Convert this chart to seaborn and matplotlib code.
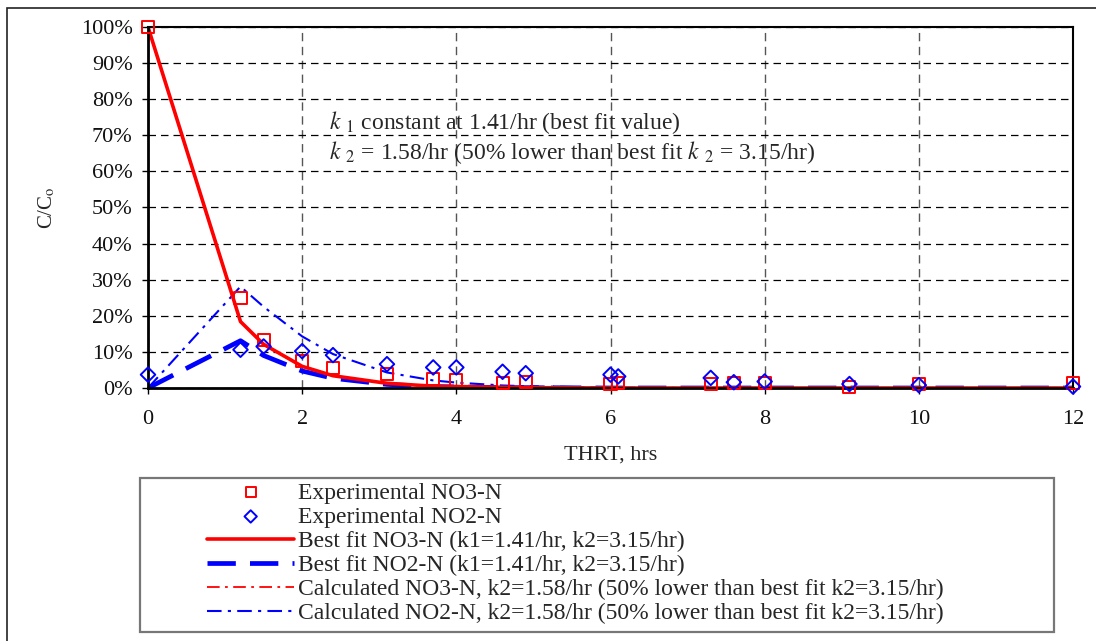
import matplotlib
matplotlib.use("Agg")
import matplotlib.pyplot as plt
import matplotlib.patches as mpatches
from matplotlib.ticker import PercentFormatter, MultipleLocator
import seaborn as sns

# Sampling times (hours of total hydraulic residence time)
thrt = [0, 1.2, 1.5, 2.0, 2.4, 3.1, 3.7, 4.0, 4.6, 4.9, 6.0, 6.1, 7.3, 7.6, 8.0, 9.1, 10.0, 12.0]

# Measured concentrations, C/Co
no3_exp = [1.000, 0.250, 0.132, 0.075, 0.055, 0.040, 0.026, 0.021, 0.013, 0.016,
           0.011, 0.013, 0.011, 0.013, 0.013, 0.004, 0.011, 0.013]
no2_exp = [0.037, 0.106, 0.115, 0.102, 0.091, 0.066, 0.057, 0.057, 0.045, 0.041,
           0.037, 0.032, 0.028, 0.016, 0.018, 0.011, 0.008, 0.004]

# Model curves, C/Co
no3_fit = [1.000, 0.184, 0.121, 0.060, 0.034, 0.013, 0.005, 0.004, 0.002, 0.001,
           0.000, 0.000, 0.000, 0.000, 0.000, 0.000, 0.000, 0.000]
no2_fit = [0.000, 0.131, 0.090, 0.047, 0.027, 0.010, 0.004, 0.003, 0.001, 0.001,
           0.000, 0.000, 0.000, 0.000, 0.000, 0.000, 0.000, 0.000]
no3_calc = [1.000, 0.184, 0.121, 0.060, 0.034, 0.013, 0.005, 0.004, 0.002, 0.001,
            0.000, 0.000, 0.000, 0.000, 0.000, 0.000, 0.000, 0.000]
no2_calc = [0.000, 0.281, 0.225, 0.143, 0.094, 0.043, 0.021, 0.015, 0.007, 0.005,
            0.001, 0.001, 0.000, 0.000, 0.000, 0.000, 0.000, 0.000]

labels = [
    "Experimental NO3-N",
    "Experimental NO2-N",
    "Best fit NO3-N (k1=1.41/hr, k2=3.15/hr)",
    "Best fit NO2-N (k1=1.41/hr, k2=3.15/hr)",
    "Calculated NO3-N, k2=1.58/hr (50% lower than best fit k2=3.15/hr)",
    "Calculated NO2-N, k2=1.58/hr (50% lower than best fit k2=3.15/hr)",
]

sns.set_style("white")
plt.rcParams["font.family"] = ["Liberation Serif", "DejaVu Serif"]
plt.rcParams["mathtext.fontset"] = "stix"

fig = plt.figure(figsize=(10.96, 6.41), dpi=100)
ax = fig.add_axes([148 / 1096, 1 - 388 / 641, (1073 - 148) / 1096, (388 - 27) / 641])

RED = "#ff0000"
BLUE = "#0000ff"

sns.lineplot(x=thrt, y=no3_fit, ax=ax, color=RED, lw=2.6, label=labels[2], zorder=4)
sns.lineplot(x=thrt, y=no2_fit, ax=ax, color=BLUE, lw=3.4, label=labels[3], zorder=3)
ax.lines[-1].set_dashes([6, 3])
sns.lineplot(x=thrt, y=no3_calc, ax=ax, color=RED, lw=1.3, label=labels[4], zorder=5)
ax.lines[-1].set_dashes([7, 3, 1.5, 3])
sns.lineplot(x=thrt, y=no2_calc, ax=ax, color=BLUE, lw=1.5, label=labels[5], zorder=3)
ax.lines[-1].set_dashes([7, 3, 1.5, 3])

sns.scatterplot(x=thrt, y=no3_exp, ax=ax, marker="s", s=75, facecolors="none",
                edgecolors=RED, linewidths=1.4, label=labels[0], zorder=8,
                clip_on=False)
sns.scatterplot(x=thrt, y=no2_exp, ax=ax, marker="D", s=55, facecolors="none",
                edgecolors=BLUE, linewidths=1.4, label=labels[1], zorder=8,
                clip_on=False)

ax.set_xlim(0, 12)
ax.set_ylim(0, 1.0)
ax.xaxis.set_major_locator(MultipleLocator(2))
ax.yaxis.set_major_locator(MultipleLocator(0.1))
ax.yaxis.set_major_formatter(PercentFormatter(1.0, decimals=0))

ax.grid(True, axis="y", color="black", linestyle=(0, (6, 4)), lw=0.9)
ax.grid(True, axis="x", color="#555555", linestyle=(0, (6, 4)), lw=1.0)
ax.set_axisbelow(True)
for side in ["left", "bottom"]:
    ax.spines[side].set_linewidth(2.0)
for side in ["top", "right"]:
    ax.spines[side].set_linewidth(1.5)
for sp in ax.spines.values():
    sp.set_color("black")
    sp.set_zorder(7)

ax.tick_params(axis="both", which="major", labelsize=16, direction="out",
               length=4, width=1, color="black", labelcolor="#111111",
               bottom=True, left=True)
ax.tick_params(axis="x", pad=12)
ax.tick_params(axis="y", pad=7)
ax.set_xlabel("THRT, hrs", fontsize=16, labelpad=12)
ax.set_ylabel(r"C/C$_{\mathrm{o}}$", fontsize=15, labelpad=17)

ax.text(0.196, 0.735, r"$k\ _{1}$ constant at 1.41/hr (best fit value)",
        transform=ax.transAxes, fontsize=17, va="center")
ax.text(0.196, 0.652, r"$k\ _{2}$ = 1.58/hr (50% lower than best fit $k\ _{2}$ = 3.15/hr)",
        transform=ax.transAxes, fontsize=17, va="center")

handles, labs = ax.get_legend_handles_labels()
ax.get_legend().remove()
order = [labs.index(l) for l in labels]
fig.legend([handles[i] for i in order], [labs[i] for i in order],
           loc="upper left", bbox_to_anchor=(207 / 1096, 1 - 482 / 641),
           frameon=False, fontsize=17, handlelength=3.7, handletextpad=0.15,
           labelspacing=0.11, borderpad=0.0, borderaxespad=0.0, markerscale=0.85)

# legend box and outer frame
fig.patches.append(mpatches.Rectangle((140 / 1096, 1 - 632 / 641), (1054 - 140) / 1096,
                                      (632 - 478) / 641, transform=fig.transFigure,
                                      fill=False, edgecolor="#777777", lw=1.6))
fig.patches.append(mpatches.Rectangle((7 / 1096, -0.05), 1.2, 1 - 8 / 641 + 0.05,
                                      transform=fig.transFigure, fill=False,
                                      edgecolor="#222222", lw=1.2))

fig.savefig("out.png", dpi=100)
